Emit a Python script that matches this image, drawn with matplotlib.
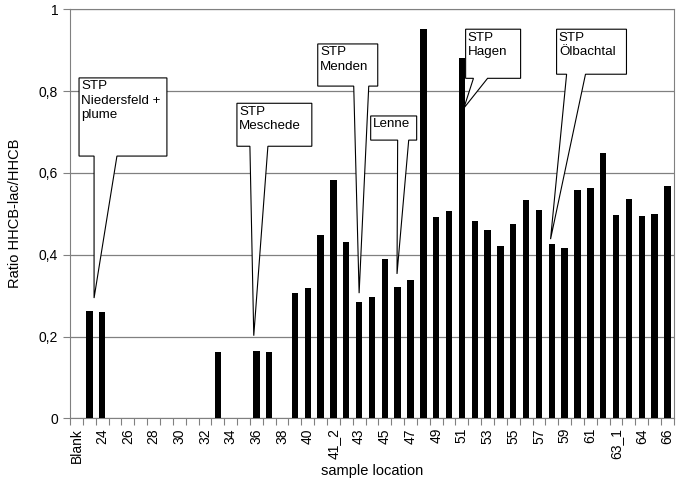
import matplotlib
matplotlib.use("Agg")
import matplotlib.pyplot as plt
import matplotlib.ticker as ticker
from matplotlib.patches import Polygon
import numpy as np

plt.rcParams["font.family"] = ["Liberation Sans", "DejaVu Sans"]

# -- data ---------------------------------------------------------------------
locations = (["Blank"] + [str(n) for n in range(23, 41)]
             + ["41_1", "41_2"] + [str(n) for n in range(42, 63)]
             + ["63_1", "63_2", "64", "65", "66"])

ratios = [0, 0.263, 0.261, 0, 0, 0, 0, 0, 0, 0, 0,
          0.163, 0, 0, 0.164, 0.163, 0, 0.307, 0.319, 0.449, 0.582,
          0.430, 0.284, 0.297, 0.390, 0.320, 0.337, 0.951, 0.491, 0.507, 0.881,
          0.482, 0.461, 0.421, 0.476, 0.534, 0.508, 0.426, 0.416, 0.557, 0.562,
          0.648, 0.496, 0.535, 0.495, 0.500, 0.567]

# callouts: text, bar index, tip offsets, box (x0, x1, y0, y1), tail base (b0, b1)
callout_text = ["STP\nNiedersfeld +\nplume", "STP\nMeschede", "STP\nMenden",
                "Lenne", "STP\nHagen", "STP\nÖlbachtal"]
callout_bar = [1, 14, 22, 25, 30, 37]
callout_tip = [(0.37, 0.031), (-0.2, 0.038), (0.0, 0.022),
               (-0.05, 0.033), (0.15, -0.123), (-0.1, 0.012)]
callout_box = [(0.2, 7.04, 0.641, 0.832), (12.49, 18.32, 0.665, 0.770),
               (18.78, 23.45, 0.812, 0.915), (22.9, 26.48, 0.680, 0.739),
               (30.29, 34.57, 0.831, 0.951), (37.37, 42.81, 0.841, 0.951)]
callout_base = [(1.37, 3.15), (13.5, 14.9), (21.58, 22.75),
                (25.0, 25.86), (30.9, 32.0), (38.15, 39.62)]

x = np.arange(len(locations))

fig = plt.figure(figsize=(6.8, 4.82), dpi=100)
ax = fig.add_axes([0.103, 0.132, 0.888, 0.849])

ax.bar(x, ratios, width=0.5, color="black", zorder=3)

ax.set_xlim(-0.5, len(locations) - 0.5)
ax.set_ylim(0, 1)
ax.yaxis.set_major_locator(ticker.MultipleLocator(0.2))
ax.yaxis.set_major_formatter(ticker.FuncFormatter(
    lambda v, _: f"{v:g}".replace(".", ",")))
ax.grid(axis="y", color="#808080", linewidth=0.9, zorder=0)

# tick marks between categories, labels on every second category
ax.set_xticks(np.arange(-0.5, len(locations), 1))
ax.set_xticklabels([])
ax.set_xticks(x[::2], minor=True)
ax.set_xticklabels(locations[::2], minor=True, rotation=90, fontsize=10)
ax.tick_params(axis="x", which="major", length=5, color="#808080")
ax.tick_params(axis="x", which="minor", length=0, pad=7)
ax.tick_params(axis="y", length=5, color="#808080", labelsize=10)

for side in ("left", "bottom", "right", "top"):
    ax.spines[side].set_color("#808080")

ax.set_xlabel("sample location", fontsize=10.5, labelpad=1)
ax.set_ylabel("Ratio HHCB-lac/HHCB", fontsize=10.5, labelpad=12)

for txt, bi, (dx, dy), (x0, x1, y0, y1), (b0, b1) in zip(
        callout_text, callout_bar, callout_tip, callout_box, callout_base):
    tx, ty = bi + dx, ratios[bi] + dy
    pts = [(x0, y1), (x1, y1), (x1, y0), (b1, y0), (tx, ty), (b0, y0), (x0, y0)]
    ax.add_patch(Polygon(pts, closed=True, facecolor="white",
                         edgecolor="black", linewidth=0.8, zorder=2.5))
    ax.text(x0 + 0.18, y1 - 0.006, txt, ha="left", va="top", fontsize=9.6,
            linespacing=1.25, zorder=2.6)

fig.savefig("out.png", dpi=100)
